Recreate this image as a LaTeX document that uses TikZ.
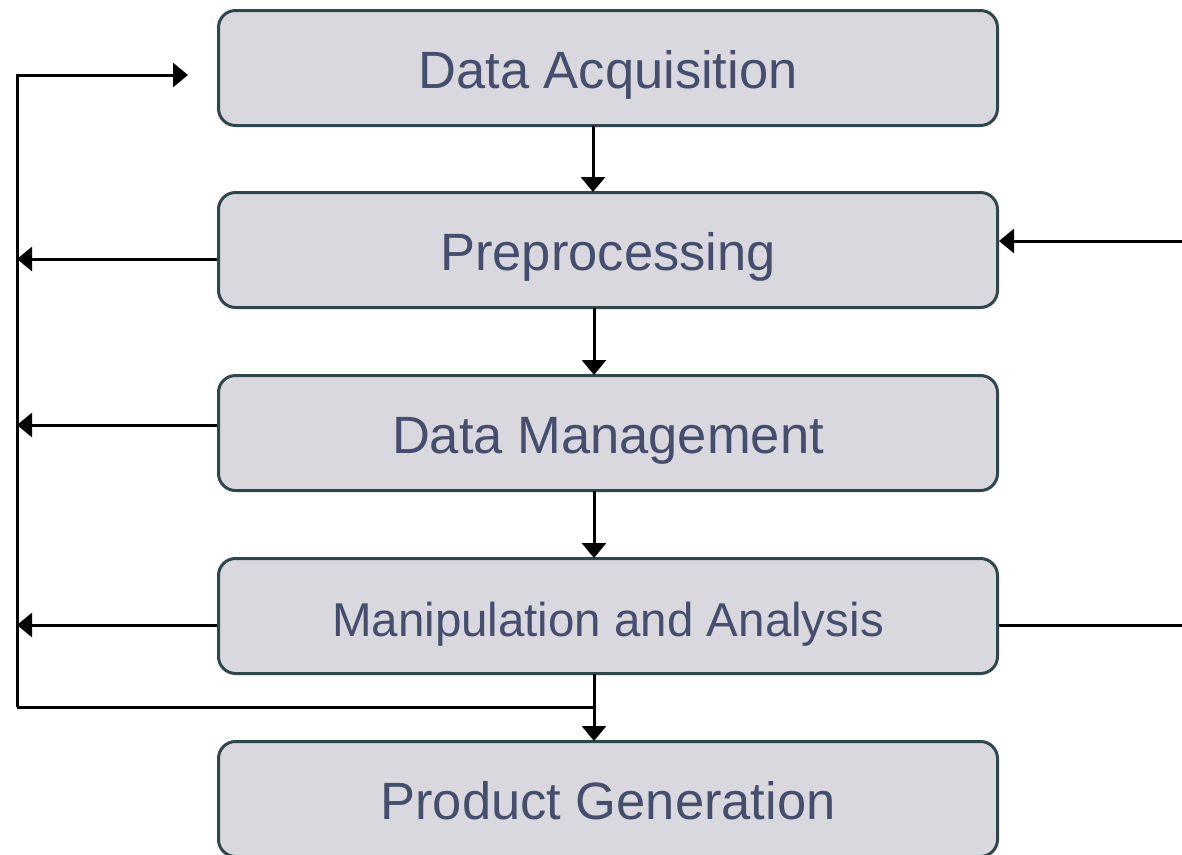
\documentclass[tikz,border=0pt]{standalone}
\usepackage{fontspec}
\setmainfont{Liberation Sans}
\usetikzlibrary{arrows.meta}
\definecolor{boxfill}{HTML}{D9D8DF}
\definecolor{boxline}{HTML}{2E474D}
\definecolor{boxtext}{HTML}{464E6E}
\begin{document}
\begin{tikzpicture}[x=1pt,y=-1pt,
  stage/.style={draw=boxline,line width=3pt,fill=boxfill,rounded corners=17pt,
    minimum width=779pt,minimum height=115pt,inner sep=0pt,text=boxtext,
    text height=41pt,text depth=0pt,
    font=\fontsize{52.5}{60}\selectfont},
  smalltext/.style={font=\fontsize{47.5}{56}\selectfont},
  link/.style={line width=3pt,-{Triangle[length=15pt,width=24pt]}},
  plain/.style={line width=3pt}]
\useasboundingbox (0,0) rectangle (1182,854);
\node[stage] (acq) at (608,68) {Data Acquisition};
\node[stage] (pre) at (608,250) {Preprocessing};
\node[stage] (man) at (608,433) {Data Management};
\node[stage,smalltext] (ana) at (608,616) {Manipulation and Analysis};
\node[stage] (gen) at (608,799) {Product Generation};
% feedback bus on the left
\coordinate (busT) at (17,75);
\coordinate (busB) at (17,707);
\coordinate (acqIn) at (188,75);
\coordinate (bP) at (17,259);
\coordinate (bM) at (17,425);
\coordinate (bA) at (17,625);
\coordinate (join) at (594,707);
\draw[link] (busB) -- (busT) -- (acqIn);
\draw[link] (pre.west |- bP) -- (bP);
\draw[link] (man.west |- bM) -- (bM);
\draw[link] (ana.west |- bA) -- (bA);
\draw[plain] (busB) -- (join);
% main chain
\draw[link] (593,126) -- (593,192);
\draw[link] (594,308) -- (594,375);
\draw[link] (594,491) -- (594,558);
\draw[link] (594,674) -- (594,741);
% right side
\coordinate (rIn) at (1182,241);
\coordinate (rOut) at (1182,625);
\draw[link] (rIn) -- (pre.east |- rIn);
\draw[plain] (ana.east |- rOut) -- (rOut);
\end{tikzpicture}
\end{document}
